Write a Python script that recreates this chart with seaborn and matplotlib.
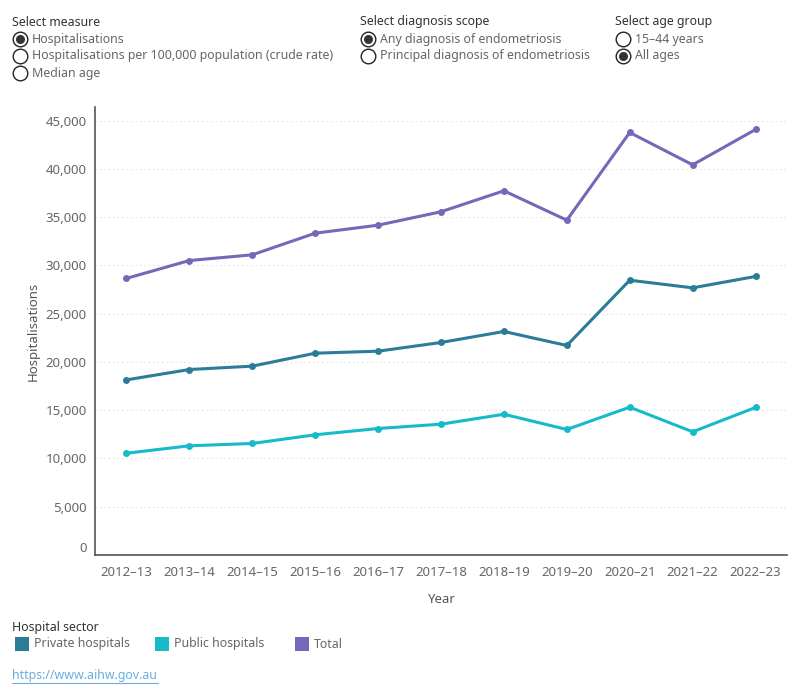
import matplotlib
matplotlib.use("Agg")
import matplotlib.pyplot as plt
from matplotlib.lines import Line2D
from matplotlib.patches import Rectangle
from matplotlib.ticker import FuncFormatter, FixedLocator
from matplotlib.transforms import ScaledTranslation
import seaborn as sns
import pandas as pd

years = ["2012–13", "2013–14", "2014–15", "2015–16", "2016–17", "2017–18",
         "2018–19", "2019–20", "2020–21", "2021–22", "2022–23"]
private = [18140, 19210, 19560, 20900, 21110, 22010, 23150, 21700, 28460, 27670, 28850]
public = [10540, 11310, 11550, 12450, 13100, 13550, 14580, 13000, 15310, 12760, 15280]
total = [28650, 30500, 31090, 33330, 34160, 35550, 37720, 34680, 43760, 40410, 44070]
sectors = ["Private hospitals", "Public hospitals", "Total"]
colors = {"Private hospitals": "#2b7c96", "Public hospitals": "#17bac9", "Total": "#7866b8"}

df = pd.DataFrame({
    "Year": years * 3,
    "Hospitalisations": private + public + total,
    "Hospital sector": [sectors[0]] * 11 + [sectors[1]] * 11 + [sectors[2]] * 11,
})

sns.set_theme(style="white")
plt.rcParams["font.family"] = ["Noto Sans", "DejaVu Sans"]

fig = plt.figure(figsize=(8, 7), dpi=100)
ax = fig.add_axes([95 / 800, 1 - 555 / 700, 692 / 800, 448 / 700])

sns.lineplot(data=df, x="Year", y="Hospitalisations", hue="Hospital sector",
             palette=colors, marker="o", markersize=5, markeredgewidth=0,
             linewidth=2.2, sort=False, legend=False, ax=ax)

ax.set_xlim(-0.5, 10.5)
ax.set_ylim(0, 46400)
ax.yaxis.set_major_locator(FixedLocator(list(range(0, 45001, 5000))))
ax.yaxis.set_major_formatter(FuncFormatter(lambda v, p: f"{int(v):,}"))
ax.yaxis.grid(True, linestyle=(0, (1, 3)), color="#d8d8d8", linewidth=0.8)
ax.xaxis.grid(False)
ax.set_axisbelow(True)

ax.set_xticks(range(len(years)))
ax.set_xticklabels(years)
ax.set_xticks([i - 0.5 for i in range(len(years) + 1)], minor=True)
ax.tick_params(axis="x", which="major", length=0, pad=8, labelsize=9.5, labelcolor="#666666")
ax.tick_params(axis="x", which="minor", length=7, width=0.8, color="#e0e0e0")
ax.tick_params(axis="y", which="major", length=0, pad=6, labelsize=9.5, labelcolor="#666666")

for s in ["top", "right"]:
    ax.spines[s].set_visible(False)
for s in ["left", "bottom"]:
    ax.spines[s].set_color("#555555")
    ax.spines[s].set_linewidth(1.2)

ax.set_xlabel("Year", fontsize=9.5, color="#555555", labelpad=10)
ax.set_ylabel("Hospitalisations", fontsize=9.5, color="#555555", labelpad=4)

# raise the "0" label like the reference
zero_lbl = ax.yaxis.get_major_ticks()[0].label1
zero_lbl.set_transform(zero_lbl.get_transform() + ScaledTranslation(0, 8 / 100, fig.dpi_scale_trans))

# Filter controls
def px(x, y):
    return x / 800, 1 - y / 700

def radio(x, y, selected):
    fx, fy = px(x, y)
    fig.add_artist(Line2D([fx], [fy], transform=fig.transFigure, marker="o",
                          markersize=10.5, markerfacecolor="white",
                          markeredgecolor="#222222", markeredgewidth=1.0, linestyle="none"))
    if selected:
        fig.add_artist(Line2D([fx], [fy], transform=fig.transFigure, marker="o",
                              markersize=6.5, markerfacecolor="#333333",
                              markeredgewidth=0, linestyle="none"))

FS = 8.9
groups = [
    (12, "Select measure", ["Hospitalisations",
                            "Hospitalisations per 100,000 population (crude rate)",
                            "Median age"], 0),
    (360, "Select diagnosis scope", ["Any diagnosis of endometriosis",
                                     "Principal diagnosis of endometriosis"], 0),
    (615, "Select age group", ["15–44 years", "All ages"], 1),
]
for gx, title, opts, sel in groups:
    tx, ty = px(gx, 22)
    fig.text(tx, ty, title, fontsize=FS, color="#333333", fontweight="medium", va="center", ha="left")
    for i, o in enumerate(opts):
        yy = 39 + 17 * i
        radio(gx + 8, yy, i == sel)
        lx, ly = px(gx + 20, yy)
        fig.text(lx, ly, o, fontsize=FS, color="#666666", va="center", ha="left")

# Legend
lx, ly = px(12, 627)
fig.text(lx, ly, "Hospital sector", fontsize=FS, color="#333333", fontweight="medium", va="center")
for sx, name in zip([15, 155, 295], sectors):
    rx, ry = px(sx, 651)
    fig.add_artist(Rectangle((rx, ry), 14 / 800, 14 / 700, transform=fig.transFigure,
                             facecolor=colors[name], edgecolor="none"))
    tx, ty = px(sx + 19, 644)
    fig.text(tx, ty, name, fontsize=FS, color="#666666", va="center")

ux, uy = px(12, 676)
fig.text(ux, uy, "https://www.aihw.gov.au", fontsize=FS, color="#6aaee0", va="center")
fig.add_artist(Line2D([12 / 800, 158 / 800], [1 - 683 / 700] * 2, transform=fig.transFigure,
                      color="#6aaee0", linewidth=0.8))

fig.savefig("out.png", dpi=100)
